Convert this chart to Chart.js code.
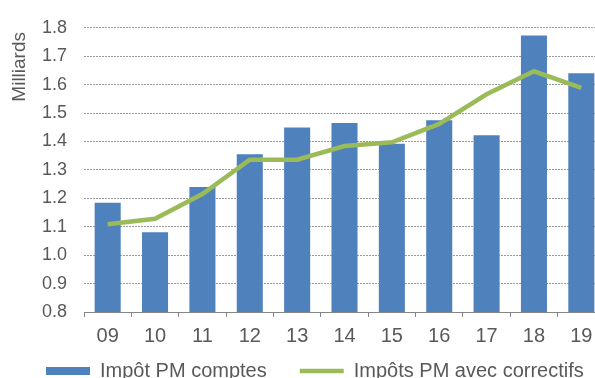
<!DOCTYPE html>
<html>
<head>
<meta charset="utf-8">
<script src="https://cdn.jsdelivr.net/npm/chart.js@4.4.0/dist/chart.umd.min.js"></script>
<style>
  html, body { margin: 0; padding: 0; background: #fff; overflow: hidden; }
  #wrap { width: 605px; height: 411px; }
</style>
</head>
<body>
<div id="wrap"><canvas id="myChart" width="605" height="411"></canvas></div>
<script>
var categories = ['09','10','11','12','13','14','15','16','17','18','19'];
var impotComptes = [1.184, 1.081, 1.240, 1.355, 1.449, 1.465, 1.392, 1.475, 1.422, 1.773, 1.640];
var impotCorrectifs = [1.109, 1.128, 1.215, 1.336, 1.336, 1.384, 1.397, 1.462, 1.566, 1.647, 1.589];
var seriesNames = ['Impôt PM comptes', 'Impôts PM avec correctifs'];
var axisTitle = 'Milliards';

var barColor = '#4F81BD';
var lineColor = '#9BBB59';
var textColor = '#595959';
var fontFamily = '"Liberation Sans", Arial, sans-serif';

// y axis title, placed near the top like the original
var yTitle = {
    id: 'yTitle',
    afterDraw: function(chart){
        var ctx = chart.ctx;
        ctx.save();
        ctx.translate(20, 32);
        ctx.rotate(-Math.PI / 2);
        ctx.font = '19px ' + fontFamily;
        ctx.fillStyle = textColor;
        ctx.textAlign = 'right';
        ctx.textBaseline = 'middle';
        ctx.fillText(axisTitle, 0, 0);
        ctx.restore();
    }
};

// nudge the legend box so it sits where the original one does
var legendShift = {
    id: 'legendShift',
    afterLayout: function(chart){
        var lg = chart.legend;
        lg.left += 13; lg.right += 13;
        lg.top -= 20; lg.bottom -= 20;
    }
};

var ctx = document.getElementById('myChart');
var myChart = new Chart(ctx, {
    type: 'bar',
    data: {
        labels: categories,
        datasets: [{
            type: 'bar',
            label: seriesNames[0],
            data: impotComptes,
            backgroundColor: barColor,
            borderWidth: 0,
            categoryPercentage: 1,
            barPercentage: 0.55,
            order: 1
        }, {
            type: 'line',
            label: seriesNames[1],
            data: impotCorrectifs,
            borderColor: lineColor,
            backgroundColor: lineColor,
            borderWidth: 4.5,
            pointRadius: 0,
            tension: 0,
            fill: false,
            order: 0
        }]
    },
    options: {
        responsive: false,
        animation: false,
        devicePixelRatio: 1,
        layout: { padding: { top: 23, left: 0, right: 0, bottom: 0 } },
        plugins: {
            tooltip: { enabled: false },
            legend: {
                position: 'bottom',
                align: 'start',
                labels: {
                    usePointStyle: true,
                    pointStyleWidth: 44,
                    boxHeight: 8,
                    padding: 33,
                    color: textColor,
                    font: { family: fontFamily, size: 20 },
                    generateLabels: function(chart){
                        return chart.data.datasets.map(function(ds, i){
                            var isLine = ds.type === 'line';
                            return {
                                text: ds.label,
                                fillStyle: isLine ? lineColor : barColor,
                                strokeStyle: isLine ? lineColor : barColor,
                                lineWidth: isLine ? 4.5 : 0,
                                pointStyle: isLine ? 'line' : 'rect',
                                fontColor: textColor,
                                hidden: false,
                                datasetIndex: i
                            };
                        });
                    }
                }
            }
        },
        scales: {
            x: {
                offset: true,
                afterFit: function(scale){ scale.height = 36; },
                grid: {
                    display: true,
                    drawOnChartArea: false,
                    drawTicks: true,
                    tickLength: 5,
                    offset: true,
                    color: '#868686'
                },
                border: { display: true, color: '#868686', width: 1 },
                ticks: {
                    color: textColor,
                    padding: 7,
                    font: { family: fontFamily, size: 20 }
                }
            },
            y: {
                min: 0.8,
                max: 1.8,
                afterFit: function(scale){ scale.width = 84; },
                grid: {
                    color: '#9a9a9a',
                    lineWidth: 1,
                    drawTicks: false
                },
                border: { display: false, dash: [2, 1] },
                ticks: {
                    stepSize: 0.1,
                    autoSkip: false,
                    padding: 17,
                    color: textColor,
                    font: { family: fontFamily, size: 18 },
                    callback: function(val){ return val.toFixed(1); }
                }
            }
        }
    },
    plugins: [yTitle, legendShift]
});
</script>
</body>
</html>
